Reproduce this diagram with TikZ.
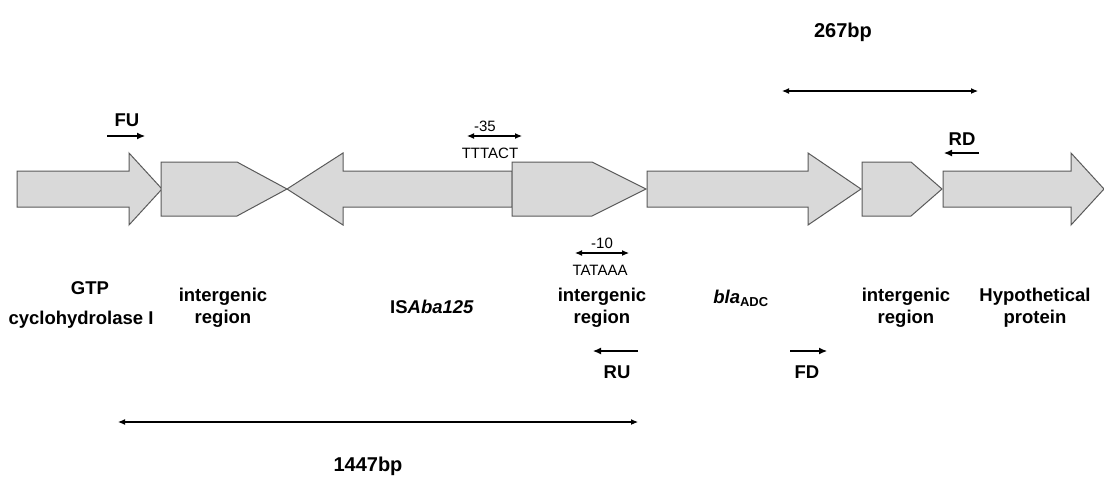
\documentclass[tikz,border=0pt]{standalone}
\usepackage{fontspec}
\setmainfont{Liberation Sans}
\usetikzlibrary{arrows.meta}
\definecolor{genefill}{RGB}{217,217,217}
\definecolor{geneline}{RGB}{90,90,90}
\begin{document}
\begin{tikzpicture}[x=1pt,y=-1pt,
  gene/.style={fill=genefill,draw=geneline,line width=1pt,line join=miter},
  lbl/.style={font=\fontsize{18.5}{22}\selectfont\bfseries,align=center,inner sep=0pt},
  primer/.style={font=\fontsize{18.5}{22}\selectfont\bfseries,inner sep=0pt},
  small/.style={font=\fontsize{15}{18}\selectfont,inner sep=0pt},
  bp/.style={font=\fontsize{20}{24}\selectfont\bfseries,inner sep=0pt},
  pa/.style={line width=1.1pt,-{Latex[length=8pt,width=7pt]}},
  da/.style={line width=1.1pt,{Latex[length=7pt,width=6pt]}-{Latex[length=7pt,width=6pt]}}]
\useasboundingbox[fill=white] (0,0) rectangle (1104,480);
% genes
\draw[gene] (17,171) -- (129,171) -- (129,153) -- (162,189) -- (129,225) -- (129,207) -- (17,207) -- cycle;
\draw[gene] (287,189) -- (343,153) -- (343,171) -- (512,171) -- (512,207) -- (343,207) -- (343,225) -- cycle;
\draw[gene] (161,162) -- (237,162) -- (287,189) -- (237,216) -- (161,216) -- cycle;
\draw[gene] (512,162) -- (592,162) -- (646,189) -- (592,216) -- (512,216) -- cycle;
\draw[gene] (647,171) -- (808,171) -- (808,153) -- (861,189) -- (808,225) -- (808,207) -- (647,207) -- cycle;
\draw[gene] (862,162) -- (911,162) -- (942,189) -- (911,216) -- (862,216) -- cycle;
\draw[gene] (943,171) -- (1071,171) -- (1071,153) -- (1104,189) -- (1071,225) -- (1071,207) -- (943,207) -- cycle;
% gene labels
\node[lbl] (gtp) at (90,288) {GTP};
\node[lbl] (cyc) at (81,320) {cyclohydrolase I};
\node[lbl] (ig1) at (223,308) {intergenic\\region};
\node[lbl] (isaba) at (432,307) {IS\textit{Aba125}};
\node[lbl] (ig2) at (602,308) {intergenic\\region};
\node[lbl,anchor=base] (bla) at (741,303) {\textit{bla}\textsubscript{ADC}};
\node[lbl] (ig3) at (906,308) {intergenic\\region};
\node[lbl] (hyp) at (1035,308) {Hypothetical\\protein};
% primers
\node[primer] (fu) at (127,120) {FU};
\coordinate (fuA) at (107,136); \coordinate (fuB) at (145,136);
\draw[pa] (fuA) -- (fuB);
\node[primer] (rd) at (962,139) {RD};
\coordinate (rdA) at (979,153); \coordinate (rdB) at (944,153);
\draw[pa] (rdA) -- (rdB);
\node[primer] (ru) at (617,372) {RU};
\coordinate (ruA) at (638,351); \coordinate (ruB) at (593,351);
\draw[pa] (ruA) -- (ruB);
\node[primer] (fd) at (807,372) {FD};
\coordinate (fdA) at (790,351); \coordinate (fdB) at (827,351);
\draw[pa] (fdA) -- (fdB);
% promoter boxes
\node[small] (m35) at (485,126) {-35};
\coordinate (m35A) at (467,136); \coordinate (m35B) at (522,136);
\draw[da] (m35A) -- (m35B);
\node[small] (ttt) at (490,153) {TTTACT};
\node[small] (m10) at (602,243) {-10};
\coordinate (m10A) at (575,253); \coordinate (m10B) at (629,253);
\draw[da] (m10A) -- (m10B);
\node[small] (tat) at (600,270) {TATAAA};
% distances
\node[bp] (bp267) at (843,32) {267bp};
\coordinate (d1A) at (782,91); \coordinate (d1B) at (978,91);
\draw[da] (d1A) -- (d1B);
\node[bp] (bp1447) at (368,466) {1447bp};
\coordinate (d2A) at (118,422); \coordinate (d2B) at (638,422);
\draw[da] (d2A) -- (d2B);
\end{tikzpicture}
\end{document}
